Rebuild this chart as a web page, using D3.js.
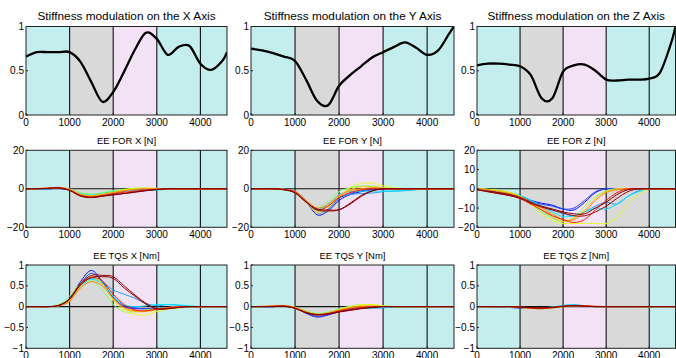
<!DOCTYPE html>
<html><head><meta charset="utf-8">
<script src="https://cdn.jsdelivr.net/npm/d3@7"></script>
<style>body{margin:0;background:#fff}svg{display:block}text{font-family:"Liberation Sans",Arial,sans-serif;fill:#000}</style>
</head><body><svg id="c" width="676" height="358"></svg>
<script>
// ---- data ----
const xs = [0,250,500,750,1000,1250,1500,1750,2000,2250,2500,2750,3000,3250,3500,3750,4000,4250,4500,4610];
const xTicks = [0,1000,2000,3000,4000];
const phaseBounds = [0,1000,2000,3000,4000,4610];
const phasesXY = ["cyan","gray","pink","cyan","cyan"];
const phasesZ  = ["cyan","gray","pink","gray","cyan"];
const titlesTop = ["Stiffness modulation on the X Axis","Stiffness modulation on the Y Axis","Stiffness modulation on the Z Axis"];
const titlesFor = ["EE FOR X [N]","EE FOR Y [N]","EE FOR Z [N]"];
const titlesTqs = ["EE TQS X [Nm]","EE TQS Y [Nm]","EE TQS Z [Nm]"];
const ticksTop = [0,0.5,1];
const ticksForXY = [-20,0,20];
const ticksForZ = [-20,-10,0,10,20];
const ticksTqs = [-1,-0.5,0,0.5,1];

const stiffX = [0.66,0.71,0.71,0.71,0.71,0.60,0.37,0.15,0.26,0.49,0.74,0.93,0.86,0.68,0.77,0.78,0.58,0.51,0.61,0.71];
const stiffY = [0.75,0.73,0.70,0.66,0.61,0.40,0.16,0.11,0.33,0.45,0.55,0.65,0.71,0.77,0.82,0.76,0.68,0.73,0.92,1.0];
const stiffZ = [0.56,0.58,0.58,0.57,0.55,0.45,0.19,0.19,0.49,0.56,0.57,0.50,0.40,0.39,0.40,0.40,0.41,0.48,0.80,1.0];

const seriesColors = ["#0010e0","#2448ff","#20a0ff","#00e4ff","#80ff70","#e0ff20","#ffc800","#ff8800","#ff1a00","#a00000","#800000"];

const forX = [
 [0,0,0,0.2,-0.6,-3,-3.6,-2.8,-2,-1,-0.5,-0.2,0,0,0,0,0,0,0,0],
 [0,0,0,0.2,-0.7,-3.2,-4,-3,-2.2,-1.2,-0.5,-0.2,0,0,0,0,0,0,0,0],
 [0,0,0,0.3,-0.5,-2.6,-3.1,-2.4,-1.5,-1,-0.8,-0.8,-0.5,-0.2,0,0,0,0,0,0],
 [0,0,0.1,0.3,-0.4,-2.4,-3,-2.3,-1.2,-0.8,-0.8,-1,-0.6,-0.3,0,0,0,0,0,0],
 [0,0,0.2,0.5,-0.1,-2,-2.8,-2,-1,-0.3,0.3,0.3,0.2,0,0,0,0,0,0,0],
 [0,0.1,0.3,0.6,-0.4,-3,-3.8,-2.8,-1.8,-0.5,0.2,0.4,0.2,0,0,0,0,0,0,0],
 [0,0.1,0.3,0.7,-0.3,-2.8,-3.6,-2.8,-1.9,-0.8,-0.2,0.1,0.1,0,0,0,0,0,0,0],
 [0,0.2,0.4,0.8,-0.3,-3,-4,-3,-2,-1,-0.3,0,0,0,0,0,0,0,0,0],
 [0,0.1,0.3,0.6,-0.6,-3.4,-4.3,-3.6,-2.6,-1.8,-1.2,-0.6,-0.2,0,0,0,0,0,0,0],
 [0,0,0.2,0.4,-0.9,-3.8,-4.6,-3.9,-3.2,-2.5,-1.8,-1,-0.4,0,0,0,0,0,0,0],
 [0,0,0.2,0.4,-0.8,-3.6,-4.4,-3.7,-3,-2.4,-1.6,-0.9,-0.3,0,0,0,0,0,0,0]
];
const forY = [
 [0,0,0,-0.2,-1.5,-6.5,-13.5,-11.5,-6,-3,-1.5,-0.5,-0.2,0,0,0,0,0,0,0],
 [0,0,0,-0.2,-1.5,-6.5,-12.5,-10.5,-5,-2.5,-1,-0.3,0,0,0,0,0,0,0,0],
 [0,0,0,-0.2,-1.2,-6,-11,-9,-4.5,-3,-2.5,-2.2,-1.5,-1.2,-1,-0.5,0,0,0,0],
 [0,0,0,-0.3,-1.5,-6,-10.5,-8,-3,-1.5,-1.2,-1.2,-1.2,-1.2,-0.8,-0.3,0,0,0,0],
 [0,0,0,-0.5,-2.2,-7,-10,-6.5,-1.5,0.5,1.5,1.5,0.5,0.2,0,0,0,0,0,0],
 [0,0,0,-0.3,-1.5,-6.5,-12.5,-10,-4,0.5,2.8,3,1.5,0.5,0,0,0,0,0,0],
 [0,0,0,-0.3,-1.5,-6.3,-11.5,-9,-4,-0.5,1,1,0.5,0,0,0,0,0,0,0],
 [0,0,0,-0.3,-1.3,-6,-10,-8,-3.5,-1,0,0.5,0.2,0,0,0,0,0,0,0],
 [0,0,0,-0.3,-1.5,-6.5,-11,-9,-4.5,-2,-0.6,0,0,0,0,0,0,0,0,0],
 [0,0,0,-0.5,-2.2,-7,-11,-11.5,-11,-8,-4,-1.2,0,0,0,0,0,0,0,0],
 [0,0,0,-0.5,-2,-6.8,-10.5,-11,-10.8,-7.5,-3.5,-1,0,0,0,0,0,0,0,0]
];
const forZ = [
 [0,-0.5,-1.5,-2.5,-4,-6,-7.5,-8.5,-10.5,-11,-7,-2,0,0,0,0,0,0,0,0],
 [0,-0.8,-1.8,-3,-4.5,-6.5,-8,-9,-10.5,-10,-6,-1.5,0,0,0,0,0,0,0,0],
 [0,-0.5,-1.2,-2,-3.5,-6,-9,-11,-13,-14,-12,-9,-7,-8,-4,-1,0,0,0,0],
 [0,-0.4,-1,-2,-3.5,-6,-9,-12,-14.5,-14,-12,-10,-10.5,-8,-4,-1.5,0,0,0,0],
 [0,-0.3,-0.8,-2,-4,-8,-12,-15,-17,-15,-9,-4,-1,0,0,0,0,0,0,0],
 [0,-0.3,-0.8,-1.8,-4,-8,-13,-16.5,-18,-18,-18,-18,-18,-15,-8,-3,0,0,0,0],
 [0,-0.4,-1,-2,-4,-7.5,-11,-14.5,-17,-15,-11,-5,-1.5,0,0,0,0,0,0,0],
 [0,-0.5,-1.5,-2.5,-4,-7,-10,-13,-16,-16,-12,-6,-2,-0.5,0,0,0,0,0,0],
 [-0.5,-1.5,-2.5,-3.5,-5,-8,-11,-14,-16,-17.5,-16,-11,-6,-2,0,0,0,0,0,0],
 [-0.5,-1.5,-2.5,-3.5,-5,-7.5,-9.5,-11,-12.5,-14,-14,-12,-9,-5,-1.5,0,0,0,0,0],
 [-0.3,-1.2,-2,-3,-4.5,-7,-9,-10.5,-12,-13,-13,-10,-7,-3,-0.5,0,0,0,0,0]
];
const tqsX = [
 [0,0,0,0.03,0.2,0.6,0.87,0.6,0.2,0,-0.05,-0.05,-0.05,-0.02,0,0,0,0,0,0],
 [0,0,0,0.03,0.18,0.55,0.8,0.6,0.22,0.02,-0.03,-0.05,-0.05,-0.02,0,0,0,0,0,0],
 [0,0,0,0.03,0.15,0.5,0.68,0.6,0.4,0.3,0.2,0.08,0.02,0.05,0.03,0,0,0,0,0],
 [0,0,0,0.03,0.15,0.48,0.65,0.55,0.25,0.05,0,0.02,0.05,0.05,0.04,0.02,0,0,0,0],
 [0,0,0,0.05,0.25,0.55,0.62,0.4,0.05,-0.12,-0.12,-0.08,-0.05,-0.02,0,0,0,0,0,0],
 [0,0,0,0.02,0.15,0.5,0.72,0.55,0.15,-0.1,-0.18,-0.2,-0.12,-0.06,-0.03,0,0,0,0,0],
 [0,0,0,0.02,0.15,0.5,0.7,0.55,0.18,-0.05,-0.12,-0.12,-0.08,-0.03,0,0,0,0,0,0],
 [0,0,0,0.02,0.12,0.45,0.6,0.5,0.2,-0.02,-0.1,-0.1,-0.06,-0.03,0,0,0,0,0,0],
 [0,0,0,0.03,0.18,0.55,0.7,0.62,0.3,0.05,-0.08,-0.1,-0.06,-0.03,0,0,0,0,0,0],
 [0,0,0,0.03,0.18,0.55,0.75,0.75,0.72,0.5,0.28,0.08,-0.05,-0.05,-0.02,0,0,0,0,0],
 [0,0,0,0.03,0.18,0.52,0.7,0.72,0.68,0.45,0.25,0.06,-0.05,-0.05,-0.02,0,0,0,0,0]
];
const tqsY = [
 [0,0,0,0.01,-0.03,-0.16,-0.25,-0.2,-0.12,-0.06,-0.03,-0.01,0,0,0,0,0,0,0,0],
 [0,0,0,0.01,-0.03,-0.15,-0.23,-0.19,-0.11,-0.05,-0.02,0,0,0,0,0,0,0,0,0],
 [0,0,0,0.01,-0.02,-0.13,-0.2,-0.17,-0.1,-0.05,-0.04,-0.04,-0.03,-0.01,0,0,0,0,0,0],
 [0,0,0,0.01,-0.02,-0.12,-0.19,-0.16,-0.08,-0.04,-0.03,-0.03,-0.02,-0.01,0,0,0,0,0,0],
 [0,0,0.01,0.02,-0.01,-0.1,-0.16,-0.13,-0.05,0.01,0.05,0.04,0.02,0,0,0,0,0,0,0],
 [0,0,0.01,0.02,-0.02,-0.13,-0.2,-0.16,-0.07,0,0.05,0.05,0.02,0,0,0,0,0,0,0],
 [0,0,0.01,0.02,-0.02,-0.13,-0.19,-0.16,-0.08,-0.02,0.02,0.02,0.01,0,0,0,0,0,0,0],
 [0,0.01,0.02,0.03,-0.02,-0.12,-0.18,-0.15,-0.08,-0.03,0,0.01,0,0,0,0,0,0,0,0],
 [0,0,0.01,0.02,-0.03,-0.14,-0.2,-0.17,-0.1,-0.05,-0.02,0,0,0,0,0,0,0,0,0],
 [0,0,0,0.01,-0.04,-0.15,-0.2,-0.18,-0.13,-0.09,-0.05,-0.02,0,0,0,0,0,0,0,0],
 [0,0,0,0.01,-0.04,-0.14,-0.19,-0.17,-0.12,-0.08,-0.04,-0.02,0,0,0,0,0,0,0,0]
];
const tqsZ = [
 [0,0,-0.01,-0.02,-0.03,-0.04,-0.05,-0.03,0,0.02,0.01,0,0,0,0,0,0,0,0,0],
 [0,0,-0.01,-0.02,-0.03,-0.04,-0.04,-0.02,0,0.02,0.01,0,0,0,0,0,0,0,0,0],
 [0,0,0,-0.01,-0.02,-0.03,-0.03,-0.01,0.02,0.04,0.02,0,0,0,0,0,0,0,0,0],
 [0,0,0,-0.01,-0.02,-0.03,-0.03,-0.01,0.03,0.05,0.02,0,0,0,0,0,0,0,0,0],
 [0,0,0,0,-0.01,-0.03,-0.04,-0.02,0.01,0.02,0.01,0,0,0,0,0,0,0,0,0],
 [0,0,0,0,-0.02,-0.04,-0.05,-0.03,0,0.02,0.01,0,0,0,0,0,0,0,0,0],
 [0,0,0,0,-0.02,-0.04,-0.05,-0.03,0,0.02,0.02,0,0,0,0,0,0,0,0,0],
 [0,0,0,0,-0.02,-0.04,-0.05,-0.03,0,0.03,0.02,0,0,0,0,0,0,0,0,0],
 [0,0,0,0,-0.01,-0.03,-0.04,-0.02,0.01,0.03,0.02,0.01,0,0,0,0,0,0,0,0],
 [0,0,0,0,-0.01,-0.03,-0.03,-0.02,0.01,0.02,0.01,0,0,0,0,0,0,0,0,0],
 [0,0,0,0,-0.01,-0.02,-0.03,-0.02,0.01,0.02,0.01,0,0,0,0,0,0,0,0,0]
];

// ---- layout ----
const colRanges = [[26,227],[251,454],[477,675.5]];
const rowRanges = [[26.5,115],[150.3,227.3],[265,348.3]];
const bgColors = {cyan:"#c4eeee", gray:"#d9d9d9", pink:"#f3e2f5"};
const svg = d3.select("#c");
const fmt = v => (v<0 ? "\u2212" : "") + Math.abs(v);

function panel(col,row,opts){
  const [x0,x1] = colRanges[col], [y0,y1] = rowRanges[row];
  const x = d3.scaleLinear().domain([0,4610]).range([x0,x1]);
  const y = d3.scaleLinear().domain(opts.domain).range([y1,y0]);
  const g = svg.append("g");
  const phases = col===2 && row>0 ? phasesZ : phasesXY;
  phases.forEach((p,i)=>{
    g.append("rect").attr("x",x(phaseBounds[i])).attr("y",y0)
      .attr("width",x(phaseBounds[i+1])-x(phaseBounds[i])).attr("height",y1-y0)
      .attr("fill",bgColors[p]);
  });
  [1000,2000,3000,4000].forEach(v=>{
    g.append("line").attr("x1",x(v)).attr("x2",x(v)).attr("y1",y0).attr("y2",y1)
      .attr("stroke","#111").attr("stroke-width",1.1);
  });
  if(opts.zeroLine){
    g.append("line").attr("x1",x0).attr("x2",x1).attr("y1",y(0)).attr("y2",y(0))
      .attr("stroke","#111").attr("stroke-width",1.1);
  }
  const clip = "clip"+col+row;
  svg.append("clipPath").attr("id",clip).append("rect").attr("x",x0).attr("y",y0).attr("width",x1-x0).attr("height",y1-y0);
  const line = d3.line().x((d,i)=>x(xs[i])).y(d=>y(d)).curve(d3.curveCardinal.tension(0));
  const dg = g.append("g").attr("clip-path",`url(#${clip})`);
  opts.series.forEach((s,i)=>{
    dg.append("path").attr("d",line(s)).attr("fill","none")
      .attr("stroke",opts.colors ? opts.colors[i] : "#000")
      .attr("stroke-width",opts.lw).attr("stroke-linejoin","round");
  });
  g.append("rect").attr("x",x0).attr("y",y0).attr("width",x1-x0).attr("height",y1-y0)
    .attr("fill","none").attr("stroke","#222").attr("stroke-width",1);
  xTicks.forEach(v=>{
    g.append("line").attr("x1",x(v)).attr("x2",x(v)).attr("y1",y1).attr("y2",y1-2).attr("stroke","#222");
    g.append("text").attr("x",x(v)).attr("y",y1+10.5).attr("text-anchor","middle")
      .attr("font-size",10).text(v);
  });
  opts.yTicks.forEach(v=>{
    g.append("line").attr("x1",x0).attr("x2",x0+2).attr("y1",y(v)).attr("y2",y(v)).attr("stroke","#222");
    g.append("text").attr("x",x0-2).attr("y",y(v)+3.5).attr("text-anchor","end")
      .attr("font-size",10).text(fmt(v));
  });
  g.append("text").attr("x",(x0+x1)/2).attr("y",opts.titleY).attr("text-anchor","middle")
    .attr("font-size",opts.titleSize).text(opts.title);
}

const tops = [stiffX,stiffY,stiffZ];
const fors = [forX,forY,forZ];
const tqss = [tqsX,tqsY,tqsZ];
for(let c=0;c<3;c++){
  panel(c,0,{domain:[0,1],yTicks:ticksTop,series:[tops[c]],lw:2.3,title:titlesTop[c],titleY:19.5,titleSize:11.8});
  panel(c,1,{domain:[-20,20],yTicks:c===2?ticksForZ:ticksForXY,series:fors[c],colors:seriesColors,lw:1,zeroLine:true,title:titlesFor[c],titleY:143.5,titleSize:9.5});
  panel(c,2,{domain:[-1,1],yTicks:ticksTqs,series:tqss[c],colors:seriesColors,lw:1,zeroLine:true,title:titlesTqs[c],titleY:259,titleSize:9.5});
}
</script></body></html>
